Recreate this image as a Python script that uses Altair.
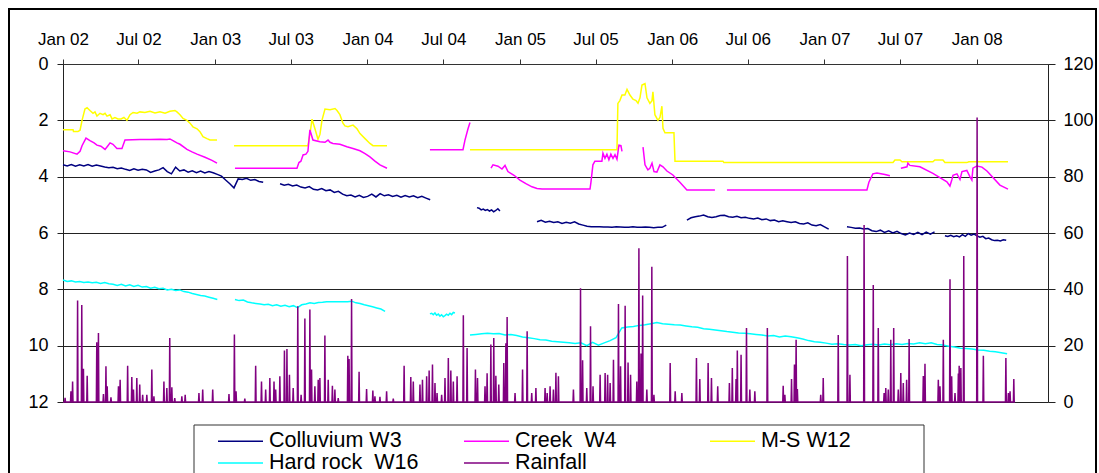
import altair as alt
import numpy as np
import pandas as pd

# ---------------- series names / colours ----------------
SERIES = ["Colluvium W3", "Creek\u00a0 W4", "M-S W12", "Hard rock\u00a0 W16", "Rainfall"]
COLORS = ["#000080", "#FF00FF", "#FFFF00", "#00FFFF", "#800080"]

# x axis tick dates (Jan / Jul 2002 .. Jan 2008)
TICK_YEARS = [2002, 2002, 2003, 2003, 2004, 2004, 2005, 2005, 2006, 2006, 2007, 2007, 2008]
TICK_MONTHS = [1, 7, 1, 7, 1, 7, 1, 7, 1, 7, 1, 7, 1]
DEPTH_TICKS = [0, 2, 4, 6, 8, 10, 12]
RAIN_TICKS = [0, 20, 40, 60, 80, 100, 120]

# ---------------- M-S W12 (time in decimal years, depth m) ----------------
ms_a_t = [2002.000, 2002.066, 2002.069, 2002.098, 2002.112, 2002.125, 2002.144, 2002.158, 2002.177,
          2002.197, 2002.210, 2002.223, 2002.243, 2002.263, 2002.276, 2002.289, 2002.309, 2002.322,
          2002.341, 2002.361, 2002.381, 2002.400, 2002.420, 2002.440, 2002.460, 2002.486, 2002.505,
          2002.538, 2002.571, 2002.604, 2002.637, 2002.670, 2002.702, 2002.735, 2002.748, 2002.768,
          2002.788, 2002.814, 2002.834, 2002.853, 2002.880, 2002.899, 2002.919, 2002.945, 2002.965,
          2003.011]
ms_a_v = [2.33, 2.33, 2.40, 2.40, 2.35, 2.00, 1.60, 1.55, 1.65,
          1.75, 1.70, 1.85, 1.75, 1.80, 1.75, 1.85, 1.80, 1.95,
          1.90, 1.95, 1.95, 1.90, 2.00, 1.80, 1.72, 1.75, 1.70,
          1.72, 1.68, 1.74, 1.70, 1.75, 1.68, 1.65, 1.70, 1.80,
          1.93, 2.00, 2.10, 2.23, 2.30, 2.40, 2.58, 2.65, 2.70,
          2.70]
ms_b_t = [2003.123, 2003.608, 2003.621, 2003.635, 2003.654, 2003.674, 2003.687, 2003.700, 2003.720,
          2003.753, 2003.786, 2003.799, 2003.818, 2003.838, 2003.851, 2003.871, 2003.904, 2003.930,
          2003.950, 2003.983, 2004.015, 2004.035, 2004.127]
ms_b_v = [2.90, 2.90, 2.50, 1.96, 2.30, 2.67, 2.50, 2.00, 1.60,
          1.62, 1.58, 1.65, 1.80, 2.10, 2.20, 2.23, 2.17, 2.30,
          2.47, 2.65, 2.82, 2.90, 2.90]
ms_c_t = [2004.672, 2005.637, 2005.643, 2005.656, 2005.670, 2005.689, 2005.703, 2005.722, 2005.742,
          2005.762, 2005.775, 2005.788, 2005.801, 2005.821, 2005.834, 2005.853, 2005.867, 2005.873,
          2005.886, 2005.906, 2005.919, 2005.932, 2005.939, 2005.952, 2006.011, 2006.018, 2006.333,
          2006.339, 2007.449, 2007.462, 2007.495, 2007.508, 2007.711, 2007.724, 2007.777, 2007.790,
          2007.934, 2007.947, 2008.204]
ms_c_v = [3.04, 3.04, 1.40, 1.30, 1.10, 1.10, 0.90, 1.10, 1.25,
          1.30, 1.39, 1.20, 0.75, 0.70, 1.20, 1.40, 1.30, 0.99,
          1.80, 2.00, 1.90, 1.50, 2.28, 2.44, 2.44, 3.45, 3.45,
          3.50, 3.50, 3.41, 3.41, 3.47, 3.47, 3.41, 3.41, 3.50,
          3.50, 3.47, 3.47]

# ---------------- Creek W4 ----------------
cr_a_t = [2002.000, 2002.046, 2002.092, 2002.112, 2002.125, 2002.151, 2002.177, 2002.204, 2002.223,
          2002.249, 2002.276, 2002.295, 2002.309, 2002.328, 2002.354, 2002.387, 2002.407, 2002.505,
          2002.571, 2002.637, 2002.683, 2002.702, 2002.722, 2002.748, 2002.768, 2002.814, 2002.847,
          2002.880, 2002.932, 2002.978, 2003.011]
cr_a_v = [3.08, 3.12, 3.20, 3.10, 2.90, 2.63, 2.72, 2.80, 2.88,
          2.92, 3.03, 2.90, 2.80, 2.85, 3.00, 3.00, 2.70, 2.68,
          2.68, 2.67, 2.68, 2.66, 2.72, 2.80, 2.85, 3.03, 3.12,
          3.20, 3.31, 3.42, 3.52]
cr_b_t = [2003.129, 2003.536, 2003.549, 2003.562, 2003.576, 2003.595, 2003.608, 2003.621, 2003.641,
          2003.687, 2003.720, 2003.740, 2003.753, 2003.772, 2003.818, 2003.864, 2003.904, 2003.950,
          2003.983, 2004.015, 2004.048, 2004.081, 2004.127]
cr_b_v = [3.70, 3.70, 3.50, 3.45, 3.23, 3.20, 3.10, 2.34, 2.70,
          2.76, 2.78, 2.70, 2.78, 2.82, 2.85, 2.94, 3.00, 3.08,
          3.18, 3.30, 3.45, 3.58, 3.70]
cr_c_t = [2004.409, 2004.626, 2004.639, 2004.659, 2004.672]
cr_c_v = [3.04, 3.04, 2.70, 2.30, 2.08]
cr_d_t = [2004.810, 2004.823, 2004.856, 2004.882, 2004.902, 2004.921, 2004.961, 2005.000, 2005.039,
          2005.079, 2005.112, 2005.145, 2005.460, 2005.466, 2005.479, 2005.492, 2005.538, 2005.545,
          2005.558, 2005.571, 2005.584, 2005.597, 2005.611, 2005.624, 2005.637, 2005.650, 2005.663,
          2005.670]
cr_d_v = [3.70, 3.58, 3.63, 3.73, 3.60, 3.82, 3.95, 4.12, 4.25,
          4.36, 4.42, 4.44, 4.44, 4.20, 3.58, 3.45, 3.45, 3.17,
          3.35, 3.20, 3.40, 3.20, 3.35, 3.22, 3.38, 2.88, 2.90,
          3.10]
cr_e_t = [2005.808, 2005.821, 2005.840, 2005.853, 2005.867, 2005.880, 2005.899, 2005.919, 2005.939,
          2005.965, 2006.004, 2006.050, 2006.096, 2006.280]
cr_e_v = [2.95, 3.58, 3.76, 3.70, 3.52, 3.82, 3.84, 3.58, 3.65,
          3.80, 3.94, 4.20, 4.47, 4.47]
cr_f_t = [2006.359, 2007.278, 2007.291, 2007.317, 2007.344, 2007.396, 2007.429]
cr_f_v = [4.47, 4.47, 4.20, 3.90, 3.87, 3.92, 3.97]
cr_g_t = [2007.501, 2007.541, 2007.547, 2007.560, 2007.626, 2007.711, 2007.803, 2007.823, 2007.836,
          2007.843, 2007.869, 2007.889, 2007.902, 2007.934, 2007.954, 2007.967, 2007.974, 2008.000,
          2008.033, 2008.066, 2008.151, 2008.204]
cr_g_v = [3.70, 3.65, 3.52, 3.60, 3.65, 3.88, 4.18, 4.33, 4.10,
          3.95, 3.90, 4.10, 3.82, 3.78, 4.00, 4.12, 3.70, 3.62,
          3.66, 3.80, 4.30, 4.44]

# ---------------- Colluvium W3 (regular readings: start, step in days, values) ----------------
co_a = (2002.000, 10, [3.58, 3.62, 3.57, 3.63, 3.58, 3.62, 3.57, 3.63, 3.59, 3.62, 3.66, 3.68, 3.67,
                       3.72, 3.69, 3.74, 3.78, 3.72, 3.77, 3.74, 3.76, 3.85, 3.80, 3.76, 3.68, 3.82,
                       3.90, 3.66, 3.80, 3.76, 3.84, 3.79, 3.86, 3.80, 3.87, 3.82, 3.86, 3.92, 3.98,
                       4.12, 4.25, 4.40, 4.08, 4.10, 4.06, 4.13, 4.10, 4.17, 4.20])
co_b = (2003.425, 10, [4.25, 4.30, 4.27, 4.33, 4.30, 4.37, 4.40, 4.35, 4.45, 4.47, 4.42, 4.50, 4.47,
                       4.56, 4.52, 4.62, 4.68, 4.65, 4.72, 4.66, 4.74, 4.70, 4.62, 4.72, 4.60, 4.68,
                       4.64, 4.70, 4.66, 4.73, 4.67, 4.72, 4.68, 4.75, 4.70, 4.76, 4.82])
co_c = (2004.718, 5, [5.10, 5.12, 5.18, 5.15, 5.20, 5.17, 5.22, 5.18, 5.25, 5.20, 5.14, 5.22])
co_d = (2005.112, 10, [5.60, 5.55, 5.62, 5.58, 5.63, 5.60, 5.66, 5.62, 5.65, 5.60, 5.68, 5.72, 5.76,
                       5.78, 5.78, 5.78, 5.79, 5.79, 5.80, 5.78, 5.79, 5.80, 5.80, 5.78, 5.80, 5.80,
                       5.79, 5.80, 5.81, 5.80, 5.80, 5.72])
co_e = (2006.096, 10, [5.54, 5.46, 5.42, 5.40, 5.36, 5.42, 5.45, 5.42, 5.38, 5.37, 5.42, 5.44, 5.41,
                       5.46, 5.44, 5.48, 5.50, 5.47, 5.53, 5.50, 5.56, 5.54, 5.60, 5.57, 5.60, 5.63,
                       5.60, 5.66, 5.68, 5.64, 5.72, 5.74, 5.70, 5.78, 5.86])
co_f = (2007.147, 10, [5.78, 5.80, 5.83, 5.82, 5.86, 5.84, 5.92, 5.95, 5.90, 5.98, 5.92, 6.00, 5.94,
                       6.02, 6.07, 6.00, 6.05, 5.98, 6.06, 5.97, 6.04, 5.96])
co_g = (2007.790, 7, [6.10, 6.12, 6.08, 6.13, 6.10, 6.14, 6.06, 6.12, 6.02, 6.08, 6.04, 6.10, 6.15,
                      6.12, 6.20, 6.18, 6.24, 6.27, 6.26, 6.28, 6.24, 6.26])

# ---------------- Hard rock W16 ----------------
hr_a = (2002.000, 10, [7.67, 7.72, 7.70, 7.74, 7.72, 7.76, 7.74, 7.77, 7.75, 7.79, 7.76, 7.80, 7.82,
                       7.86, 7.82, 7.88, 7.84, 7.90, 7.86, 7.92, 7.90, 7.96, 7.93, 7.98, 7.96, 8.02,
                       8.00, 8.04, 8.02, 8.08, 8.10, 8.15, 8.18, 8.22, 8.24, 8.28, 8.32, 8.36])
hr_b = (2003.129, 10, [8.36, 8.40, 8.38, 8.45, 8.48, 8.50, 8.52, 8.55, 8.53, 8.58, 8.55, 8.60, 8.57,
                       8.62, 8.58, 8.65, 8.55, 8.52, 8.48, 8.50, 8.47, 8.46, 8.44, 8.44, 8.44, 8.44,
                       8.44, 8.44, 8.42, 8.48, 8.50, 8.55, 8.58, 8.62, 8.66, 8.70, 8.78])
hr_c = (2004.409, 4, [8.87, 8.85, 8.90, 8.84, 8.92, 8.88, 8.95, 8.90, 8.97, 8.93, 8.88, 8.92, 8.85,
                      8.90, 8.82, 8.84])
hr_d = (2004.672, 14, [9.62, 9.60, 9.58, 9.56, 9.58, 9.57, 9.62, 9.60, 9.64, 9.69, 9.72, 9.75, 9.79,
                       9.80, 9.84, 9.86, 9.88, 9.90, 9.92, 9.90, 10.00, 9.88, 9.98, 9.90, 9.82, 9.72,
                       9.37, 9.34, 9.32, 9.28, 9.26, 9.22, 9.18, 9.22, 9.24, 9.26, 9.27, 9.30, 9.33,
                       9.35, 9.40, 9.42, 9.44, 9.47, 9.50, 9.52, 9.55, 9.56, 9.58, 9.60, 9.62, 9.66,
                       9.64, 9.69, 9.66, 9.68, 9.72, 9.76, 9.82, 9.86, 9.88, 9.91, 9.95, 9.93, 9.96,
                       9.98, 9.96, 10.00, 9.97, 9.95, 9.98, 9.94, 9.97, 9.93, 9.96, 9.92, 9.94, 9.90,
                       9.93, 9.90, 9.96, 9.98, 10.02, 10.05, 10.09, 10.10, 10.12, 10.15, 10.16, 10.20,
                       10.22, 10.25, 10.29])

# ---------------- Rainfall (daily events: decimal year, mm) ----------------
rain_t = [2002.013, 2002.053, 2002.064, 2002.097, 2002.123, 2002.133, 2002.160, 2002.221, 2002.234,
          2002.265, 2002.282, 2002.291, 2002.315, 2002.363, 2002.374, 2002.425, 2002.451, 2002.462,
          2002.484, 2002.505, 2002.523, 2002.549, 2002.582, 2002.597, 2002.663, 2002.681, 2002.702,
          2002.714, 2002.735, 2002.779, 2002.801, 2002.893, 2002.917, 2002.983, 2003.090, 2003.125,
          2003.136, 2003.195, 2003.265, 2003.304, 2003.331, 2003.359, 2003.385, 2003.396, 2003.425,
          2003.453, 2003.469, 2003.486, 2003.512, 2003.541, 2003.562, 2003.589, 2003.621, 2003.633,
          2003.654, 2003.676, 2003.687, 2003.720, 2003.742, 2003.770, 2003.786, 2003.807, 2003.869,
          2003.879, 2003.895, 2003.945, 2003.994, 2004.033, 2004.048, 2004.081, 2004.125, 2004.168,
          2004.239, 2004.283, 2004.300, 2004.344, 2004.361, 2004.388, 2004.405, 2004.427, 2004.442,
          2004.457, 2004.486, 2004.508, 2004.529, 2004.545, 2004.562, 2004.588, 2004.628, 2004.654,
          2004.709, 2004.722, 2004.770, 2004.785, 2004.808, 2004.829, 2004.843, 2004.862, 2004.895,
          2004.908, 2004.915, 2004.967, 2005.018, 2005.048, 2005.077, 2005.105, 2005.164, 2005.179,
          2005.197, 2005.219, 2005.236, 2005.252, 2005.350, 2005.399, 2005.412, 2005.438, 2005.464,
          2005.481, 2005.525, 2005.558, 2005.576, 2005.591, 2005.613, 2005.648, 2005.661, 2005.691,
          2005.711, 2005.727, 2005.766, 2005.781, 2005.794, 2005.806, 2005.832, 2005.865, 2005.880,
          2005.985, 2006.018, 2006.062, 2006.160, 2006.182, 2006.236, 2006.258, 2006.298, 2006.374,
          2006.394, 2006.418, 2006.427, 2006.451, 2006.488, 2006.510, 2006.543, 2006.623, 2006.729,
          2006.740, 2006.784, 2006.801, 2006.812, 2006.820, 2006.974, 2006.991, 2007.090, 2007.149,
          2007.166, 2007.260, 2007.319, 2007.352, 2007.390, 2007.403, 2007.418, 2007.434, 2007.455,
          2007.483, 2007.499, 2007.516, 2007.539, 2007.554, 2007.648, 2007.659, 2007.746, 2007.757,
          2007.779, 2007.823, 2007.834, 2007.856, 2007.877, 2007.884, 2007.895, 2007.915, 2008.002,
          2008.042, 2008.190, 2008.206, 2008.217, 2008.243]
rain_mm = [1.5, 3.8, 7.3, 36.0, 34.4, 11.8, 9.3, 21.2, 24.5,
           2.8, 12.7, 5.6, 1.7, 5.6, 7.9, 12.9, 8.9, 4.4,
           8.5, 6.2, 2.6, 2.6, 11.5, 2.0, 7.3, 5.0, 22.7,
           5.2, 1.4, 2.0, 2.6, 3.2, 4.4, 4.4, 2.8, 24.0,
           3.8, 1.2, 12.9, 7.3, 4.4, 8.5, 7.3, 4.4, 9.1,
           18.3, 18.8, 9.7, 5.0, 34.0, 2.6, 29.6, 32.8, 11.5,
           5.6, 7.9, 8.5, 23.6, 7.9, 5.8, 4.4, 1.4, 16.4,
           15.3, 36.6, 10.7, 4.6, 4.1, 2.0, 1.8, 3.8, 1.2,
           12.9, 8.9, 7.3, 6.2, 7.9, 9.1, 11.2, 13.3, 6.7,
           3.2, 2.6, 8.5, 15.6, 11.2, 7.3, 9.1, 30.8, 19.2,
           11.5, 8.5, 5.6, 10.2, 20.4, 22.7, 9.3, 6.2, 13.8,
           20.9, 30.2, 3.2, 11.5, 25.1, 3.2, 5.0, 5.0, 3.2,
           5.6, 4.4, 10.4, 9.1, 4.4, 40.4, 14.8, 5.0, 26.9,
           5.6, 9.7, 10.3, 9.7, 6.7, 15.0, 34.8, 12.7, 34.2,
           14.0, 9.7, 7.3, 54.6, 17.2, 37.8, 4.4, 48.0, 2.6,
           13.8, 3.8, 3.2, 15.6, 8.2, 13.8, 8.5, 5.6, 6.7,
           12.1, 8.2, 18.3, 16.8, 26.3, 4.4, 3.8, 26.3, 5.8,
           2.6, 8.2, 13.3, 22.1, 4.6, 2.6, 8.5, 23.8, 51.8,
           9.7, 62.8, 41.5, 26.3, 3.2, 5.0, 4.4, 22.1, 26.3,
           4.4, 10.3, 6.7, 7.9, 22.4, 9.2, 13.6, 7.9, 5.6,
           22.1, 43.6, 9.1, 3.2, 10.1, 12.9, 12.1, 51.8, 101.0,
           16.4, 15.6, 3.2, 3.8, 8.2]
RAIN_LAST_YEAR = 2008.250

# ---------------- build tables ----------------
BASE = pd.Timestamp("2002-01-01")


def yr_to_date(yrs):
    return BASE + pd.to_timedelta((np.asarray(yrs, dtype=float) - 2002.0) * 365.25, unit="D")


rows = []


def add_pairs(name, seg, ts, vs):
    for d, v in zip(yr_to_date(ts), vs):
        rows.append({"date": d, "depth": v, "series": name, "seg": seg})


def add_regular(name, seg, spec):
    start, step, vals = spec
    d0 = yr_to_date([start])[0]
    for i, v in enumerate(vals):
        rows.append({"date": d0 + pd.Timedelta(days=step * i), "depth": v, "series": name, "seg": seg})


for k, (t, v) in enumerate([(ms_a_t, ms_a_v), (ms_b_t, ms_b_v), (ms_c_t, ms_c_v)]):
    add_pairs(SERIES[2], f"ms{k}", t, v)
for k, (t, v) in enumerate([(cr_a_t, cr_a_v), (cr_b_t, cr_b_v), (cr_c_t, cr_c_v), (cr_d_t, cr_d_v),
                            (cr_e_t, cr_e_v), (cr_f_t, cr_f_v), (cr_g_t, cr_g_v)]):
    add_pairs(SERIES[1], f"cr{k}", t, v)
for k, spec in enumerate([co_a, co_b, co_c, co_d, co_e, co_f, co_g]):
    add_regular(SERIES[0], f"co{k}", spec)
for k, spec in enumerate([hr_a, hr_b, hr_c, hr_d]):
    add_regular(SERIES[3], f"hr{k}", spec)

wells = pd.DataFrame(rows)

n_days = int(round((RAIN_LAST_YEAR - 2002.0) * 365.25)) + 1
daily = np.zeros(n_days)
for t, v in zip(rain_t, rain_mm):
    i = int(round((t - 2002.0) * 365.25))
    daily[i] = max(daily[i], v)
rain_df = pd.DataFrame({
    "date": BASE + pd.to_timedelta(np.arange(n_days), unit="D"),
    "rain": daily,
    "series": SERIES[4],
})

# ---------------- chart ----------------
FONT = "Liberation Sans"

color = alt.Color(
    "series:N",
    scale=alt.Scale(domain=SERIES, range=COLORS),
    legend=alt.Legend(
        title=None, orient="none", legendX=154, legendY=367, columns=3, direction="horizontal",
        gridAlign="all", columnPadding=44, rowPadding=0, padding=0, symbolType="stroke",
        symbolSize=2025, symbolStrokeWidth=1.5, clipHeight=20, labelFont=FONT, labelFontSize=21.5,
        labelColor="black", labelOffset=5, labelLimit=400,
    ),
)

tick_values = [alt.DateTime(year=y, month=m, date=1) for y, m in zip(TICK_YEARS, TICK_MONTHS)]
x_enc = alt.X(
    "date:T",
    scale=alt.Scale(domain=[alt.DateTime(year=2002, month=1, date=1),
                            alt.DateTime(year=2008, month=6, date=20)], nice=False),
    axis=alt.Axis(
        orient="top", values=tick_values, format="%b %y", title=None, grid=False,
        labelFont=FONT, labelFontSize=17, labelColor="black", labelPadding=11,
        labelFlush=False, labelOverlap=False, tickSize=5, tickColor="#333333",
        domainColor="#333333",
    ),
)

wells_layer = alt.Chart(wells).mark_line(strokeWidth=1.5).encode(
    x=x_enc,
    y=alt.Y(
        "depth:Q",
        scale=alt.Scale(domain=[0, 12], reverse=True, nice=False, zero=False),
        axis=alt.Axis(
            values=DEPTH_TICKS, title=None, grid=True, gridColor="#222222", gridWidth=1,
            labelFont=FONT, labelFontSize=18, labelColor="black", labelPadding=9,
            tickSize=6, tickColor="#222222", domainColor="#222222",
        ),
    ),
    color=color,
    detail="seg:N",
)

rain_layer = alt.Chart(rain_df).mark_line(strokeWidth=1.5).encode(
    x=x_enc,
    y=alt.Y(
        "rain:Q",
        scale=alt.Scale(domain=[0, 120], nice=False),
        axis=alt.Axis(
            orient="right", values=RAIN_TICKS, title=None, grid=False,
            labelFont=FONT, labelFontSize=18, labelColor="black", labelPadding=8,
            tickSize=7, tickColor="#222222", domainColor="#222222",
        ),
    ),
    color=color,
)

one = alt.Data(values=[{"k": 1}])
outer_frame = alt.Chart(one).mark_rect(fillOpacity=0, stroke="black", strokeWidth=2).encode(
    x=alt.value(-54), x2=alt.value(1033), y=alt.value(-55), y2=alt.value(425)
)
legend_frame = alt.Chart(one).mark_rect(fillOpacity=0, stroke="#333333", strokeWidth=1).encode(
    x=alt.value(131), x2=alt.value(861), y=alt.value(361), y2=alt.value(425)
)

chart = (
    alt.layer(outer_frame, legend_frame, wells_layer, rain_layer)
    .resolve_scale(y="independent")
    .properties(
        width=985, height=338,
        padding={"left": 63, "top": 64, "right": 51, "bottom": 71},
        autosize=alt.AutoSizeParams(type="none"),
        background="white",
    )
    .configure_view(strokeWidth=0)
)

chart.save("out.html", embed_options={"renderer": "svg", "actions": False})
